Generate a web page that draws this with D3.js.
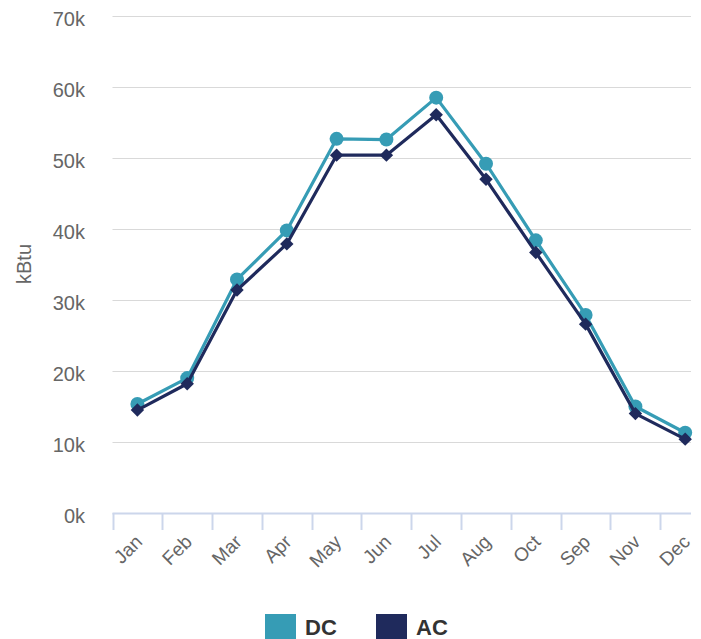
<!DOCTYPE html>
<html><head><meta charset="utf-8">
<script src="https://cdn.jsdelivr.net/npm/d3@7"></script>
<style>body{margin:0;background:#fff}svg{display:block}text{font-family:"Liberation Sans",Arial,sans-serif}</style>
</head><body>
<script>
const categories = ["Jan","Feb","Mar","Apr","May","Jun","Jul","Aug","Oct","Sep","Nov","Dec"];
const dcValues = [15350, 19000, 32900, 39800, 52700, 52600, 58500, 49200, 38400, 27900, 15000, 11300];
const acValues = [14500, 18200, 31400, 37900, 50400, 50400, 56100, 47000, 36700, 26600, 14000, 10400];
const yTicks = [0, 10000, 20000, 30000, 40000, 50000, 60000, 70000];
const seriesNames = ["DC", "AC"];
const colors = {DC: "#369cb5", AC: "#1f2a5c"};

const W = 701, H = 639;
const svg = d3.select("body").append("svg").attr("width", W).attr("height", H);
const plotL = 112.5, plotR = 691, plotT = 16, plotB = 513;
const step = 49.8;
const x = d3.scaleBand().domain(categories).range([plotL, plotL + step * categories.length]).padding(0);
const y = d3.scaleLinear().domain([0, 70000]).range([plotB, plotT]);

// gridlines
svg.append("g").selectAll("line").data(yTicks.filter(d => d > 0)).join("line")
  .attr("x1", plotL).attr("x2", plotR)
  .attr("y1", d => Math.round(y(d)) + 0.5).attr("y2", d => Math.round(y(d)) + 0.5)
  .attr("stroke", "#d9d9d9").attr("stroke-width", 1.2);

// y labels
svg.append("g").selectAll("text").data(yTicks).join("text")
  .attr("x", 85).attr("y", d => y(d) + 9.5)
  .attr("text-anchor", "end").attr("font-size", 20).attr("fill", "#666")
  .text(d => d3.format("d")(d / 1000) + "k");

svg.append("text").attr("transform", `translate(31,264) rotate(-90)`)
  .attr("text-anchor", "middle").attr("font-size", 20).attr("fill", "#666").text("kBtu");

// x axis
const xa = svg.append("g");
xa.append("line").attr("x1", plotL).attr("x2", plotR).attr("y1", plotB + 0.5).attr("y2", plotB + 0.5)
  .attr("stroke", "#ccd6eb").attr("stroke-width", 2);
xa.selectAll("line.tick").data(categories).join("line").attr("class", "tick")
  .attr("x1", d => Math.round(x(d)) + 0.5).attr("x2", d => Math.round(x(d)) + 0.5)
  .attr("y1", plotB).attr("y2", plotB + 17)
  .attr("stroke", "#ccd6eb").attr("stroke-width", 2);
xa.selectAll("text").data(categories).join("text")
  .attr("transform", d => `translate(${x(d) + x.bandwidth() / 2 + 6},${plotB + 30}) rotate(-45)`)
  .attr("text-anchor", "end").attr("font-size", 19).attr("fill", "#666")
  .text(d => d);

// series
const cx = d => x(d) + x.bandwidth() / 2;
const line = d3.line().x(d => cx(d[0])).y(d => y(d[1]));
const dcData = categories.map((c, i) => [c, dcValues[i]]);
const acData = categories.map((c, i) => [c, acValues[i]]);

svg.append("path").datum(dcData).attr("d", line).attr("fill", "none")
  .attr("stroke", colors.DC).attr("stroke-width", 3.2).attr("stroke-linejoin", "round");
svg.append("g").selectAll("circle").data(dcData).join("circle")
  .attr("cx", d => cx(d[0])).attr("cy", d => y(d[1])).attr("r", 7).attr("fill", colors.DC);

svg.append("path").datum(acData).attr("d", line).attr("fill", "none")
  .attr("stroke", colors.AC).attr("stroke-width", 3.2).attr("stroke-linejoin", "round");
svg.append("g").selectAll("path").data(acData).join("path")
  .attr("transform", d => `translate(${cx(d[0])},${y(d[1])}) rotate(45)`)
  .attr("d", d3.symbol().type(d3.symbolSquare).size(90)).attr("fill", colors.AC);

// legend
const leg = svg.append("g");
const legX = [265, 376];
seriesNames.forEach((n, i) => {
  leg.append("rect").attr("x", legX[i]).attr("y", 614).attr("width", 31).attr("height", 31).attr("fill", colors[n]);
  leg.append("text").attr("x", legX[i] + 40).attr("y", 635).attr("font-size", 22).attr("font-weight", "bold")
    .attr("fill", "#333").text(n);
});
</script>
</body></html>
